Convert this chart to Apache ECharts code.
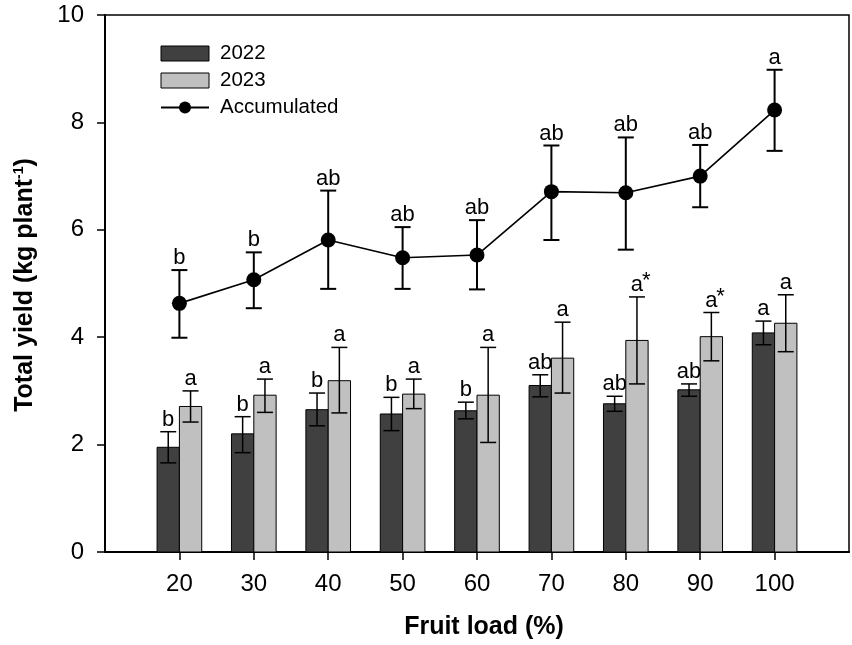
<!DOCTYPE html>
<html>
<head>
<meta charset="utf-8">
<script src="https://cdn.jsdelivr.net/npm/echarts@6/dist/echarts.min.js"></script>
<style>html,body{margin:0;padding:0;background:#fff}#c{width:852px;height:645px}</style>
</head>
<body>
<div id="c"></div>
<script>
const fruitLoad = [20, 30, 40, 50, 60, 70, 80, 90, 100];
const tickValues = [20, 30, 40, 50, 60, 70, 80, 90, 100];
const y2022 = [1.95, 2.20, 2.65, 2.57, 2.63, 3.10, 2.76, 3.02, 4.08];
const y2022Lo = [1.66, 1.85, 2.35, 2.26, 2.48, 2.89, 2.62, 2.90, 3.86];
const y2022Hi = [2.24, 2.52, 2.96, 2.88, 2.79, 3.30, 2.90, 3.13, 4.30];
const y2023 = [2.71, 2.92, 3.19, 2.94, 2.92, 3.61, 3.94, 4.01, 4.26];
const y2023Lo = [2.42, 2.60, 2.59, 2.67, 2.04, 2.96, 3.13, 3.56, 3.73];
const y2023Hi = [3.00, 3.22, 3.81, 3.22, 3.81, 4.28, 4.75, 4.46, 4.79];
const acc = [4.63, 5.07, 5.81, 5.48, 5.53, 6.71, 6.69, 7.00, 8.23];
const accLo = [3.99, 4.54, 4.90, 4.90, 4.89, 5.81, 5.63, 6.42, 7.47];
const accHi = [5.25, 5.58, 6.73, 6.05, 6.18, 7.57, 7.72, 7.58, 8.98];
const lab2022 = ['b', 'b', 'b', 'b', 'b', 'ab', 'ab', 'ab', 'a'];
const lab2023 = ['a', 'a', 'a', 'a', 'a', 'a', 'a*', 'a*', 'a'];
const labAcc = ['b', 'b', 'ab', 'ab', 'ab', 'ab', 'ab', 'ab', 'a'];

const FONT = '"Liberation Sans", Arial, sans-serif';
const DARK = '#404040';
const LIGHT = '#c0c0c0';
const BAR_W = 3; // in x-axis units

function labelEls(label, cx, topY) {
  const els = [];
  const star = label.endsWith('*');
  const base = star ? label.slice(0, -1) : label;
  els.push({
    type: 'text',
    style: { text: base, x: cx, y: topY - 1, align: 'center', verticalAlign: 'bottom',
      fontSize: 22, fontFamily: FONT, fill: '#000' }
  });
  if (star) {
    els.push({
      type: 'text',
      style: { text: '*', x: cx + 5, y: topY - 5, align: 'left', verticalAlign: 'bottom',
        fontSize: 22, fontFamily: FONT, fill: '#000' }
    });
  }
  return els;
}

function errEls(cx, yHi, yLo, lw) {
  const cap = 8;
  return [
    { type: 'line', shape: { x1: cx, y1: yHi, x2: cx, y2: yLo }, style: { stroke: '#000', lineWidth: lw } },
    { type: 'line', shape: { x1: cx - cap, y1: yHi, x2: cx + cap, y2: yHi }, style: { stroke: '#000', lineWidth: lw } },
    { type: 'line', shape: { x1: cx - cap, y1: yLo, x2: cx + cap, y2: yLo }, style: { stroke: '#000', lineWidth: lw } }
  ];
}

function barRenderer(side, color, labels) {
  return function (params, api) {
    const x = api.value(0), v = api.value(1), lo = api.value(2), hi = api.value(3);
    const xl = side < 0 ? x - BAR_W : x;
    const p0 = api.coord([xl, v]);
    const p1 = api.coord([xl + BAR_W, 0]);
    const cx = (p0[0] + p1[0]) / 2;
    const yHi = api.coord([x, hi])[1];
    const yLo = api.coord([x, lo])[1];
    const children = [
      { type: 'rect', shape: { x: p0[0], y: p0[1], width: p1[0] - p0[0], height: p1[1] - p0[1] },
        style: { fill: color, stroke: '#000', lineWidth: 1 } }
    ].concat(errEls(cx, yHi, yLo, 1.5)).concat(labelEls(labels[params.dataIndex], cx, yHi));
    return { type: 'group', children };
  };
}

function accRenderer(params, api) {
  const x = api.value(0), lo = api.value(1), hi = api.value(2);
  const cx = api.coord([x, 0])[0];
  const yHi = api.coord([x, hi])[1];
  const yLo = api.coord([x, lo])[1];
  return { type: 'group', children: errEls(cx, yHi, yLo, 2).concat(labelEls(labAcc[params.dataIndex], cx, yHi)) };
}

const chart = echarts.init(document.getElementById('c'), null, { renderer: 'canvas' });
chart.setOption({
  animation: false,
  backgroundColor: '#fff',
  textStyle: { fontFamily: FONT },
  grid: { left: 105, right: 3, top: 15, bottom: 93, show: true, borderColor: '#000', borderWidth: 1.5, containLabel: false },
  graphic: [{
    type: 'text', x: 25, y: 285, rotation: Math.PI / 2,
    style: {
      text: 'Total yield (kg plant{sup|-1})', align: 'center', verticalAlign: 'middle',
      fontSize: 25, fontWeight: 'bold', fontFamily: FONT, fill: '#000',
      rich: { sup: { fontSize: 14, fontWeight: 'bold', fontFamily: FONT, verticalAlign: 'top', padding: [0, 0, 12, 0], fill: '#000' } }
    }
  }],
  legend: {
    orient: 'vertical', left: 160, top: 43, padding: 0, itemGap: 6, itemWidth: 48, itemHeight: 15,
    textStyle: { fontSize: 20.5, fontFamily: FONT, color: '#000', padding: [0, 0, 0, 6] },
    data: [
      { name: '2022', icon: 'rect', itemStyle: { color: DARK, borderColor: '#000', borderWidth: 1 } },
      { name: '2023', icon: 'rect', itemStyle: { color: LIGHT, borderColor: '#000', borderWidth: 1 } },
      { name: 'Accumulated' }
    ]
  },
  xAxis: {
    type: 'value', min: 10, max: 110, interval: 10,
    name: 'Fruit load (%)', nameLocation: 'middle', nameGap: 63,
    nameTextStyle: { fontSize: 25, fontWeight: 'bold', color: '#000', fontFamily: FONT, padding: [0, 0, 0, 14] },
    axisLine: { show: true, lineStyle: { color: '#000', width: 2 } },
    axisTick: { show: true, length: 8, lineStyle: { color: '#000', width: 1.5 }, customValues: tickValues },
    axisLabel: { margin: 20, fontSize: 24, color: '#000', fontFamily: FONT, customValues: tickValues },
    splitLine: { show: false }
  },
  yAxis: {
    type: 'value', min: 0, max: 10, interval: 2,
    axisLine: { show: true, lineStyle: { color: '#000', width: 2 } },
    axisTick: { show: true, length: 8, lineStyle: { color: '#000', width: 1.5 } },
    axisLabel: { margin: 21, fontSize: 24, color: '#000', fontFamily: FONT },
    splitLine: { show: false }
  },
  series: [
    {
      name: '2022', type: 'custom', itemStyle: { color: DARK },
      renderItem: barRenderer(-1, DARK, lab2022),
      encode: { x: 0, y: 1 },
      data: fruitLoad.map((x, i) => [x, y2022[i], y2022Lo[i], y2022Hi[i]])
    },
    {
      name: '2023', type: 'custom', itemStyle: { color: LIGHT },
      renderItem: barRenderer(1, LIGHT, lab2023),
      encode: { x: 0, y: 1 },
      data: fruitLoad.map((x, i) => [x, y2023[i], y2023Lo[i], y2023Hi[i]])
    },
    {
      name: 'AccErr', type: 'custom', renderItem: accRenderer,
      encode: { x: 0, y: 2 },
      data: fruitLoad.map((x, i) => [x, accLo[i], accHi[i]])
    },
    {
      name: 'Accumulated', type: 'line', symbol: 'circle', symbolSize: 15,
      itemStyle: { color: '#000' }, lineStyle: { color: '#000', width: 1.6 },
      data: fruitLoad.map((x, i) => [x, acc[i]]), z: 5
    }
  ]
});
</script>
</body>
</html>
